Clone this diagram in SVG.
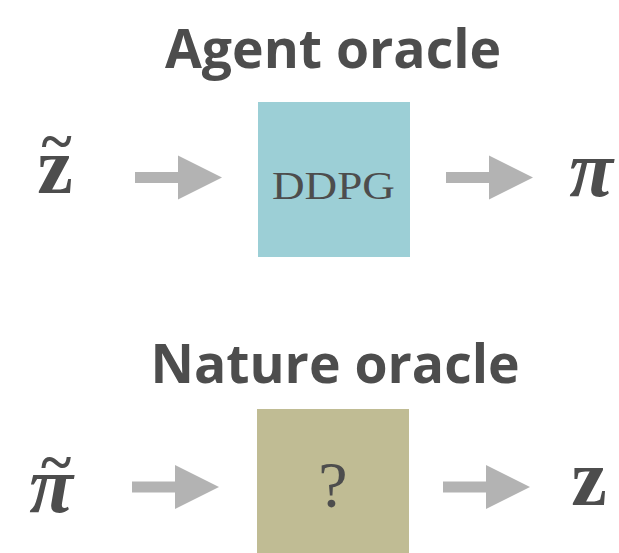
<svg xmlns="http://www.w3.org/2000/svg" width="619" height="553" viewBox="0 0 619 553">
  <defs>
    <style>
      .title { font-family: "Open Sans", "Liberation Sans", sans-serif; font-weight: 700; font-size: 53.5px; fill: #4d4d4d; text-anchor: middle; }
      .box-label { font-family: "Liberation Serif", "DejaVu Serif", serif; fill: #4d4d4d; text-anchor: middle; }
      .sym { font-family: "Liberation Serif", "DejaVu Serif", serif; fill: #4d4d4d; text-anchor: middle; }
      .accent { font-family: "Liberation Serif", "DejaVu Serif", serif; font-size: 58px; font-weight: 700; font-style: normal; }
      .arrow { fill: #b3b3b3; }
    </style>
    <!-- block arrow pointing right, origin at shaft start / centerline -->
    <path id="blockArrow" d="M0,-5.5 H43 V-22 L87,0 L43,22 V5.5 H0 Z"/>
  </defs>

  <rect width="619" height="553" fill="#ffffff"/>

  <!-- Agent oracle section -->
  <g id="agent-title">
    <text class="title" x="333" y="68">Agent oracle</text>
  </g>
  <g id="agent-input">
    <text class="sym" font-size="80" font-weight="700"><tspan x="55" y="193">z</tspan><tspan class="accent" x="56.5" y="160">~</tspan></text>
  </g>
  <g id="agent-box">
    <rect x="258" y="102" width="152" height="155" fill="#9ccfd6"/>
    <text class="box-label" x="333.5" y="199" font-size="41" textLength="123" lengthAdjust="spacingAndGlyphs">DDPG</text>
  </g>
  <g id="agent-output">
    <text class="sym" x="591" y="196" font-size="80" font-style="italic" font-weight="700">π</text>
  </g>

  <!-- Nature oracle section -->
  <g id="nature-title">
    <text class="title" x="335" y="383">Nature oracle</text>
  </g>
  <g id="nature-input">
    <text class="sym" font-size="80" font-style="italic" font-weight="700"><tspan x="51" y="512">π</tspan><tspan class="accent" x="56" y="480.5">~</tspan></text>
  </g>
  <g id="nature-box">
    <rect x="257" y="409" width="152" height="144" fill="#c0bc94"/>
    <text class="box-label" x="333" y="507" font-size="66">?</text>
  </g>
  <g id="nature-output">
    <text class="sym" x="589" y="505" font-size="80" font-weight="700">z</text>
  </g>

  <!-- connectors -->
  <g id="connectors" class="arrow">
    <use href="#blockArrow" transform="translate(135,177.5)"/>
    <use href="#blockArrow" transform="translate(446,177.5)"/>
    <use href="#blockArrow" transform="translate(132,487)"/>
    <use href="#blockArrow" transform="translate(443,487)"/>
  </g>
</svg>
